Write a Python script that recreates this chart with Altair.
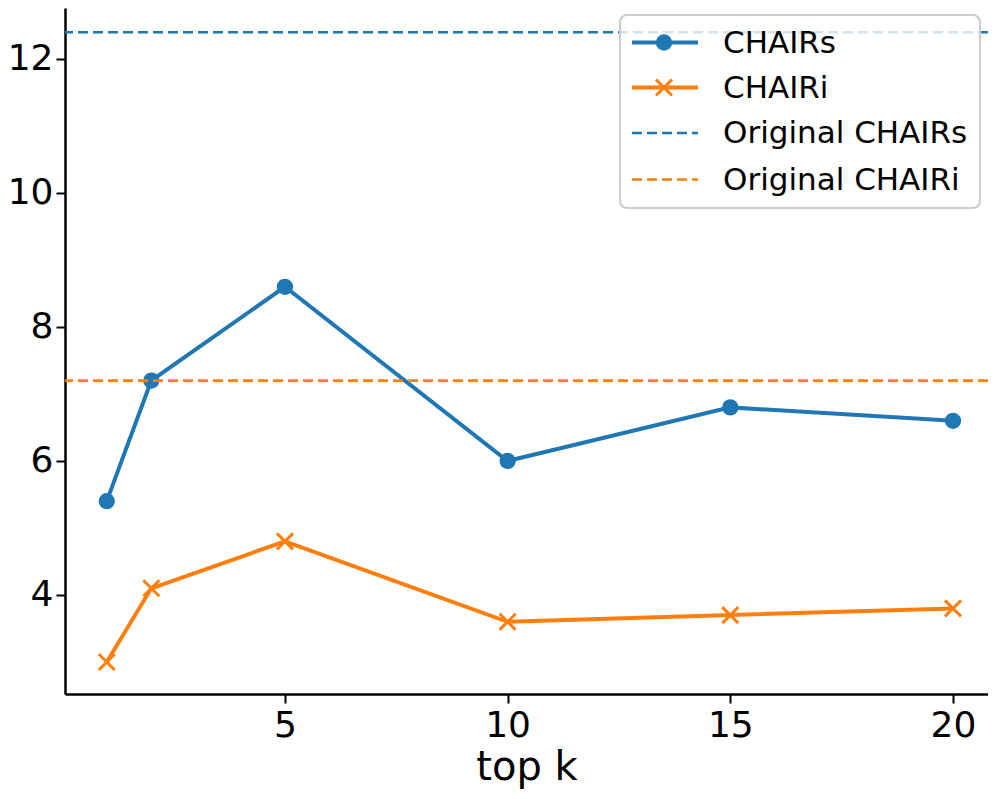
import altair as alt
import pandas as pd

top_k = [1, 2, 5, 10, 15, 20]
chair_s = [5.4, 7.2, 8.6, 6.0, 6.8, 6.6]
chair_i = [3.0, 4.1, 4.8, 3.6, 3.7, 3.8]
orig_chair_s = 12.4
orig_chair_i = 7.2
legend_labels = ["CHAIRs", "CHAIRi", "Original CHAIRs", "Original CHAIRi"]

BLUE = "#1f77b4"
ORANGE = "#ff7f0e"
FONT = "DejaVu Sans"

df_s = pd.DataFrame({"k": top_k, "v": chair_s})
df_i = pd.DataFrame({"k": top_k, "v": chair_i})
df_os = pd.DataFrame({"v": [orig_chair_s]})
df_oi = pd.DataFrame({"v": [orig_chair_i]})

xs = alt.Scale(domain=[0.062, 20.786], nice=False, zero=False)
ys = alt.Scale(domain=[2.522, 12.761], nice=False, zero=False)

xenc = alt.X("k:Q", scale=xs, title="top k",
             axis=alt.Axis(values=[5, 10, 15, 20], format="d"))
yenc = alt.Y("v:Q", scale=ys, title=None,
             axis=alt.Axis(values=[4, 6, 8, 10, 12], format="d"))

X_PATH = "M-1,-1L1,1M-1,1L1,-1"
LW = 4

line_s = alt.Chart(df_s).mark_line(color=BLUE, strokeWidth=LW).encode(x=xenc, y=yenc)
pts_s = alt.Chart(df_s).mark_point(shape="circle", filled=True, color=BLUE,
                                   size=265, opacity=1).encode(x=xenc, y=yenc)
line_i = alt.Chart(df_i).mark_line(color=ORANGE, strokeWidth=LW).encode(x=xenc, y=yenc)
pts_i = alt.Chart(df_i).mark_point(shape=X_PATH, filled=False, color=ORANGE,
                                   size=256, strokeWidth=3, opacity=1).encode(x=xenc, y=yenc)
h_s = alt.Chart(df_os).mark_rule(color=BLUE, strokeWidth=2.6, strokeDash=[10, 5]).encode(y=alt.Y("v:Q", scale=ys))
h_i = alt.Chart(df_oi).mark_rule(color=ORANGE, strokeWidth=2.6, strokeDash=[10, 5]).encode(y=alt.Y("v:Q", scale=ys))

one = pd.DataFrame({"a": [0]})

# legend box
leg_box = alt.Chart(one).mark_rect(fill="white", fillOpacity=0.8, stroke="#cccccc",
                                   strokeWidth=2, cornerRadius=7).encode(
    x=alt.value(555), x2=alt.value(915), y=alt.value(7), y2=alt.value(200))

rows = [34.5, 79.5, 125, 171.5]
leg_layers = [leg_box]
colors = [BLUE, ORANGE, BLUE, ORANGE]
for i, lab in enumerate(legend_labels):
    y = rows[i]
    if i < 2:
        leg_layers.append(alt.Chart(one).mark_rule(color=colors[i], strokeWidth=LW).encode(
            x=alt.value(567), x2=alt.value(633), y=alt.value(y)))
    else:
        leg_layers.append(alt.Chart(one).mark_rule(color=colors[i], strokeWidth=2.6,
                                                   strokeDash=[10, 5]).encode(
            x=alt.value(567), x2=alt.value(633), y=alt.value(y)))
    if i == 0:
        leg_layers.append(alt.Chart(one).mark_point(shape="circle", filled=True, color=BLUE,
                                                    size=265, opacity=1).encode(
            x=alt.value(599), y=alt.value(y)))
    if i == 1:
        leg_layers.append(alt.Chart(one).mark_point(shape=X_PATH, filled=False, color=ORANGE,
                                                    size=256, strokeWidth=3, opacity=1).encode(
            x=alt.value(599), y=alt.value(y)))
    leg_layers.append(alt.Chart(pd.DataFrame({"t": [lab]})).mark_text(
        align="left", baseline="middle", font=FONT, fontSize=31, color="black").encode(
        x=alt.value(658), y=alt.value(y + 1), text="t:N"))

chart = alt.layer(line_s, line_i, pts_s, pts_i, h_s, h_i, *leg_layers).properties(
    width=923, height=686,
    autosize=alt.AutoSizeParams(type="none"),
    padding={"left": 57, "top": 0, "right": 0, "bottom": 97},
).configure_view(stroke=None).configure_axis(
    grid=False, domainColor="black", domainWidth=2.5, tickColor="black", tickWidth=2,
    tickSize=9, labelFont=FONT, labelFontSize=36, labelColor="black",
    titleFont=FONT, titleFontSize=40, titleFontWeight="normal", titleColor="black",
).configure_axisX(labelPadding=5, titlePadding=4).configure_axisY(labelPadding=3)

chart.save("out.html", embed_options={"renderer": "svg", "actions": False})
